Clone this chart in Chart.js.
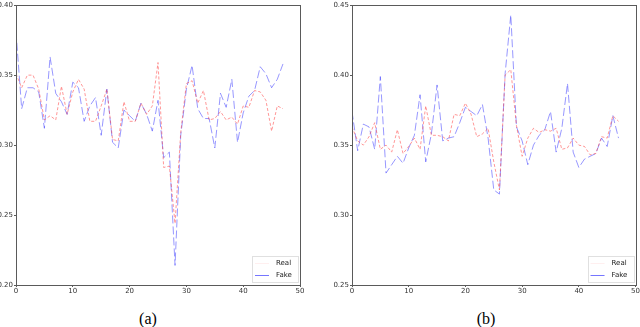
<!DOCTYPE html>
<html><head><meta charset="utf-8">
<script src="https://cdn.jsdelivr.net/npm/chart.js@4/dist/chart.umd.min.js"></script>
<style>
html,body{margin:0;padding:0;background:#fff;width:640px;height:327px;overflow:hidden;}
canvas{position:absolute;top:0;}
.cap{position:absolute;top:310px;font-family:"Liberation Serif","Times New Roman",serif;font-size:16px;color:#000;transform:translateX(-50%);}
</style></head>
<body>
<canvas id="ca" width="320" height="300" style="left:0;width:320px;height:300px"></canvas>
<canvas id="cb" width="320" height="300" style="left:320px;width:320px;height:300px"></canvas>
<div class="cap" style="left:148px">(a)</div>
<div class="cap" style="left:486px">(b)</div>
<script>
const seriesNames = ["Real", "Fake"];
const xTicks = [0, 10, 20, 30, 40, 50];
const yTicksA = [0.20, 0.25, 0.30, 0.35, 0.40];
const yTicksB = [0.25, 0.30, 0.35, 0.40, 0.45];
const realA = [0.351,0.341,0.350,0.350,0.340,0.318,0.321,0.318,0.342,0.322,
  0.338,0.347,0.340,0.317,0.317,0.328,0.340,0.304,0.303,0.331,
  0.317,0.317,0.330,0.322,0.328,0.359,0.284,0.285,0.244,0.309,
  0.344,0.346,0.330,0.339,0.318,0.319,0.324,0.318,0.320,0.315,
  0.328,0.327,0.339,0.338,0.332,0.310,0.328,0.326];
const fakeA = [0.381,0.326,0.341,0.341,0.338,0.312,0.363,0.337,0.331,0.322,
  0.345,0.341,0.317,0.328,0.334,0.307,0.340,0.302,0.298,0.325,
  0.321,0.317,0.330,0.322,0.310,0.332,0.291,0.295,0.214,0.307,
  0.340,0.357,0.326,0.319,0.319,0.298,0.337,0.327,0.347,0.302,
  0.323,0.335,0.339,0.356,0.351,0.341,0.347,0.358];
const realB = [0.363,0.353,0.350,0.356,0.366,0.347,0.350,0.345,0.361,0.344,
  0.349,0.355,0.347,0.378,0.357,0.357,0.356,0.353,0.372,0.371,
  0.380,0.372,0.356,0.358,0.362,0.338,0.318,0.400,0.404,0.364,
  0.342,0.355,0.362,0.359,0.361,0.360,0.362,0.347,0.348,0.355,
  0.350,0.349,0.343,0.344,0.356,0.355,0.371,0.367];
const fakeB = [0.374,0.346,0.365,0.363,0.347,0.399,0.330,0.336,0.342,0.337,
  0.348,0.357,0.386,0.338,0.358,0.393,0.353,0.355,0.356,0.366,
  0.377,0.374,0.371,0.379,0.355,0.318,0.315,0.401,0.443,0.363,
  0.353,0.336,0.350,0.357,0.361,0.374,0.345,0.362,0.394,0.345,
  0.334,0.340,0.342,0.344,0.355,0.349,0.371,0.355];

const FONT = {family: "'DejaVu Sans', sans-serif", size: 7};
const REAL_COLOR = 'rgba(255,50,50,0.5)';
const FAKE_COLOR = 'rgba(50,50,255,0.5)';

const framePlugin = {
  id: 'frame',
  afterDatasetsDraw(chart) {
    const a = chart.chartArea, c = chart.ctx;
    c.save();
    c.strokeStyle = '#5a5a5a'; c.lineWidth = 1;
    c.strokeRect(Math.round(a.left) + 0.5, Math.round(a.top) + 0.5,
                 Math.round(a.right - a.left), Math.round(a.bottom - a.top));
    const w = 46, h = 26;
    const x0 = a.right - 2 - w, y0 = a.bottom - 3 - h;
    c.fillStyle = 'rgba(255,255,255,0.9)';
    c.fillRect(x0, y0, w, h);
    c.strokeStyle = '#e0e0e0';
    c.strokeRect(Math.round(x0) + 0.5, Math.round(y0) + 0.5, w, h);
    const ds = chart.data.datasets;
    const legendColors = ['rgba(255,120,120,0.12)', 'rgba(60,60,255,0.7)'];
    ds.forEach((d, i) => {
      const y = Math.round(y0 + 7 + i * 12) + 0.5;
      c.strokeStyle = legendColors[i];
      c.setLineDash([]);
      c.beginPath(); c.moveTo(x0 + 3, y); c.lineTo(x0 + 17, y); c.stroke();
      c.fillStyle = '#222';
      c.font = "7px 'DejaVu Sans', sans-serif";
      c.textBaseline = 'middle';
      c.fillText(d.label, x0 + 24, y);
    });
    c.restore();
  }
};

function makeChart(id, real, fake, yTicks, yAxisWidth, padRight, padTop) {
  const xs = real.map((_, i) => i);
  const yMin = yTicks[0], yMax = yTicks[yTicks.length - 1];
  return new Chart(document.getElementById(id), {
    type: 'line',
    data: {
      datasets: [
        {label: seriesNames[0], data: xs.map((x, i) => ({x, y: real[i]})),
         borderColor: REAL_COLOR, borderWidth: 1, borderDash: [3, 2],
         pointRadius: 0, fill: false, tension: 0},
        {label: seriesNames[1], data: xs.map((x, i) => ({x, y: fake[i]})),
         borderColor: FAKE_COLOR, borderWidth: 1, borderDash: [8, 3],
         pointRadius: 0, fill: false, tension: 0}
      ]
    },
    options: {
      responsive: false, animation: false, devicePixelRatio: 1,
      layout: {padding: {left: 0, right: padRight, top: padTop, bottom: 0}},
      plugins: {legend: {display: false}, tooltip: {enabled: false}},
      scales: {
        x: {
          type: 'linear', min: xTicks[0], max: xTicks[xTicks.length - 1],
          afterBuildTicks: s => { s.ticks = xTicks.map(v => ({value: v})); },
          afterFit: s => { s.height = 15; },
          grid: {display: true, drawOnChartArea: false, drawTicks: true, tickLength: 2, color: '#5a5a5a'},
          border: {display: false},
          ticks: {font: FONT, color: '#333', padding: 0, maxRotation: 0, autoSkip: false,
                  callback: v => String(v)}
        },
        y: {
          type: 'linear', min: yMin, max: yMax,
          afterBuildTicks: s => { s.ticks = yTicks.map(v => ({value: v})); },
          afterFit: s => { s.width = yAxisWidth; },
          grid: {display: true, drawOnChartArea: false, drawTicks: true, tickLength: 2, color: '#5a5a5a'},
          border: {display: false},
          ticks: {font: FONT, color: '#333', padding: 1, autoSkip: false,
                  callback: v => Number(v).toFixed(2)}
        }
      }
    },
    plugins: [framePlugin]
  });
}

makeChart('ca', realA, fakeA, yTicksA, 16, 20, 2);
makeChart('cb', realB, fakeB, yTicksB, 32, 3, 3);
</script>
</body></html>
